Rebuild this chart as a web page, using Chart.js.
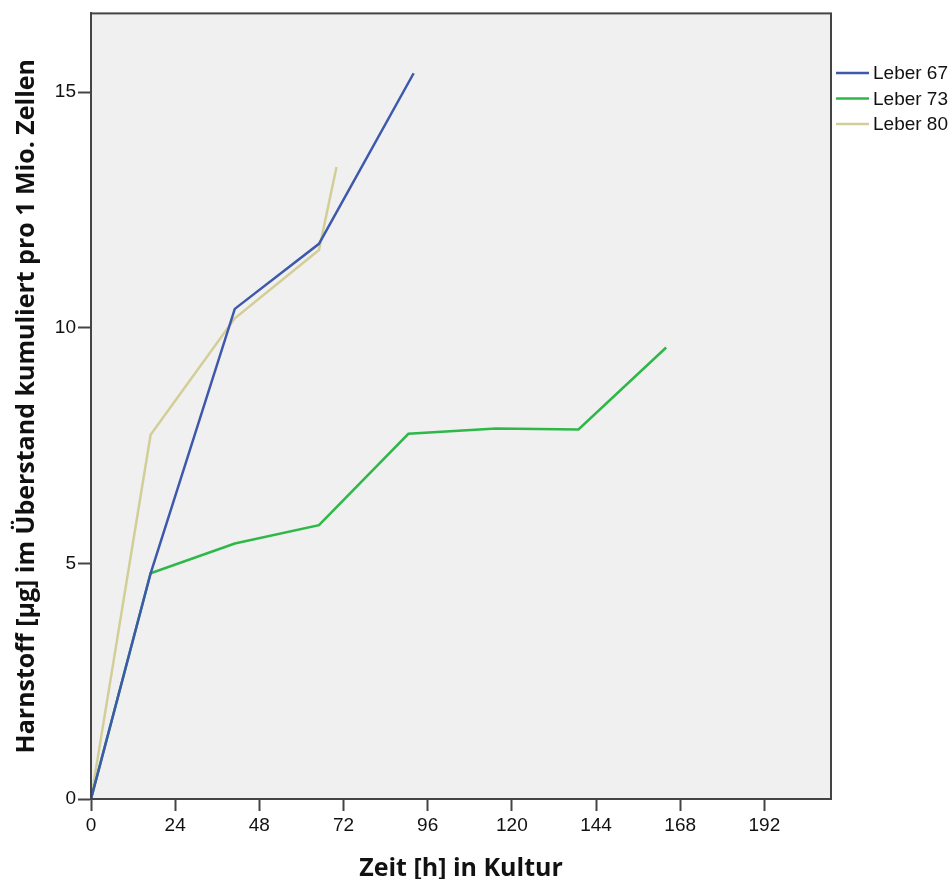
<!DOCTYPE html>
<html>
<head>
<meta charset="utf-8">
<script src="https://cdn.jsdelivr.net/npm/chart.js@4.4.0/dist/chart.umd.min.js"></script>
<style>
  html, body { margin: 0; padding: 0; background: #fff; }
  #wrap { width: 952px; height: 879px; }
</style>
</head>
<body>
<div id="wrap"><canvas id="myChart" width="952" height="879"></canvas></div>
<script>
// values
const seriesNames = ['Leber 67', 'Leber 73', 'Leber 80'];
const hours67 = [0, 17, 41, 65, 92];
const urea67 = [0, 4.79, 10.4, 11.78, 15.4];
const hours73 = [0, 17, 41, 65, 90.5, 115.5, 139, 164];
const urea73 = [0, 4.79, 5.42, 5.81, 7.75, 7.86, 7.84, 9.58];
const hours80 = [0, 17, 41, 65, 70];
const urea80 = [0, 7.73, 10.2, 11.65, 13.41];
const xTicks = [0, 24, 48, 72, 96, 120, 144, 168, 192];
const yTicks = [0, 5, 10, 15];
const lineColors = ['#3e58ac', '#2eb848', '#d3ce97'];

function points(xs, ys) {
    return xs.map(function (x, i) { return { x: x, y: ys[i] }; });
}

// grey plot area + frame
const plotFrame = {
    id: 'plotFrame',
    beforeDraw: function (chart) {
        const a = chart.chartArea, c = chart.ctx;
        c.save();
        c.fillStyle = '#f0f0f0';
        c.fillRect(a.left, a.top, a.right - a.left, a.bottom - a.top);
        c.restore();
    },
    afterDraw: function (chart) {
        const a = chart.chartArea, c = chart.ctx;
        c.save();
        c.strokeStyle = '#444';
        c.lineWidth = 2;
        c.strokeRect(a.left, a.top, a.right - a.left, a.bottom - a.top);
        c.restore();
    }
};

// legend to the right of the plot, like SPSS
const sideLegend = {
    id: 'sideLegend',
    afterDraw: function (chart) {
        const c = chart.ctx;
        const x0 = chart.chartArea.right + 5;
        c.save();
        c.font = '19px "Liberation Sans", Arial, sans-serif';
        c.textBaseline = 'middle';
        c.fillStyle = '#111';
        chart.data.datasets.forEach(function (ds, i) {
            const y = 73 + i * 25.5;
            c.strokeStyle = ds.borderColor;
            c.lineWidth = 2.5;
            c.beginPath();
            c.moveTo(x0, y);
            c.lineTo(x0 + 33, y);
            c.stroke();
            c.fillText(ds.label, x0 + 37, y + 1);
        });
        c.restore();
    }
};

const ctx = document.getElementById('myChart').getContext('2d');

const myChart = new Chart(ctx, {
    type: 'line',
    data: {
        datasets: [
            { label: seriesNames[0], data: points(hours67, urea67), borderColor: lineColors[0] },
            { label: seriesNames[1], data: points(hours73, urea73), borderColor: lineColors[1] },
            { label: seriesNames[2], data: points(hours80, urea80), borderColor: lineColors[2] }
        ]
    },
    options: {
        responsive: false,
        animation: false,
        layout: { padding: { top: 12, right: 121, left: 0, bottom: 0 } },
        elements: {
            line: { borderWidth: 2.5, tension: 0, fill: false },
            point: { radius: 0 }
        },
        plugins: {
            legend: { display: false },
            tooltip: { enabled: false }
        },
        scales: {
            x: {
                type: 'linear',
                min: 0,
                max: 211,
                afterFit: function (s) { s.height = 80; },
                afterBuildTicks: function (s) { s.ticks = xTicks.map(function (v) { return { value: v }; }); },
                grid: { drawOnChartArea: false, tickLength: 12, tickWidth: 2, tickColor: '#444' },
                border: { color: '#444', width: 2 },
                ticks: {
                    color: '#111',
                    padding: 3,
                    maxRotation: 0,
                    font: { family: '"Liberation Sans", Arial, sans-serif', size: 19 }
                },
                title: {
                    display: true,
                    text: 'Zeit [h] in Kultur',
                    color: '#111',
                    padding: { top: 0, bottom: 0 },
                    font: { family: '"Open Sans", sans-serif', size: 25, weight: 'bold', lineHeight: 0.8 }
                }
            },
            y: {
                min: 0,
                max: 16.67,
                afterFit: function (s) { s.width = 91; },
                afterBuildTicks: function (s) { s.ticks = yTicks.map(function (v) { return { value: v }; }); },
                grid: { drawOnChartArea: false, tickLength: 13, tickWidth: 2, tickColor: '#444' },
                border: { color: '#444', width: 2 },
                ticks: {
                    color: '#111',
                    padding: 2,
                    font: { family: '"Liberation Sans", Arial, sans-serif', size: 19 }
                },
                title: {
                    display: true,
                    text: 'Harnstoff [µg] im Überstand kumuliert pro 1 Mio. Zellen',
                    color: '#111',
                    padding: { top: 12, bottom: 0 },
                    font: { family: '"Open Sans", sans-serif', size: 25, weight: 'bold' }
                }
            }
        }
    },
    plugins: [plotFrame, sideLegend]
});
</script>
</body>
</html>
